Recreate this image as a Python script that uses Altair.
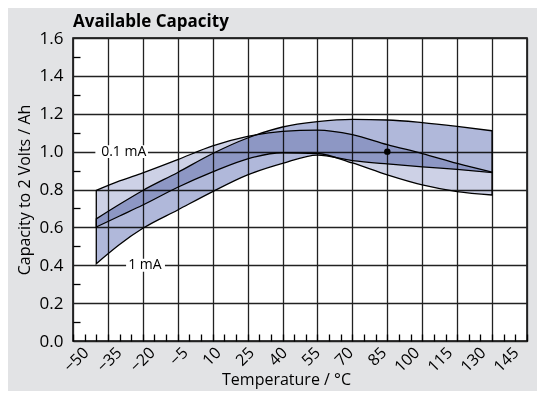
import altair as alt
import pandas as pd

# ---- data ----
temps = [-40, -30, -20, -5, 10, 25, 40, 55, 70, 85, 100, 115, 130]
top_01mA = [0.795, 0.845, 0.888, 0.958, 1.030, 1.080, 1.107, 1.114, 1.090, 1.037, 0.990, 0.938, 0.892]
bot_01mA = [0.602, 0.660, 0.718, 0.812, 0.893, 0.962, 0.994, 0.990, 0.940, 0.877, 0.824, 0.789, 0.771]
top_1mA = [0.645, 0.722, 0.795, 0.890, 0.990, 1.072, 1.130, 1.158, 1.170, 1.167, 1.153, 1.133, 1.110]
bot_1mA = [0.408, 0.510, 0.595, 0.692, 0.789, 0.877, 0.938, 0.982, 0.953, 0.935, 0.920, 0.906, 0.889]

band_names = ["0.1 mA", "1 mA"]
band_colors = ["#cdd1e6", "#b0b8da"]

dot_t = [85]
dot_v = [1.0]

label_text = ["0.1 mA", "1 mA"]
label_t = [-28.2, -19.1]
label_v = [1.0, 0.4]
box_t1 = [-40.4, -27.2]
box_t2 = [-17.8, -10.5]
box_v1 = [0.966, 0.366]
box_v2 = [1.034, 0.434]

x_major = list(range(-50, 146, 15))
x_minor = list(range(-50, 146, 5))
y_major = [0.0, 0.2, 0.4, 0.6, 0.8, 1.0, 1.2, 1.4, 1.6]
y_minor = [0.1, 0.3, 0.5, 0.7, 0.9, 1.1, 1.3, 1.5]

# ---- tables ----
rows = []
for t, lo, hi in zip(temps, bot_01mA, top_01mA):
    rows.append({"T": t, "lo": lo, "hi": hi, "band": band_names[0]})
for t, lo, hi in zip(temps, bot_1mA, top_1mA):
    rows.append({"T": t, "lo": lo, "hi": hi, "band": band_names[1]})
bands = pd.DataFrame(rows)
dots = pd.DataFrame({"T": dot_t, "V": dot_v})
labels = pd.DataFrame({"text": label_text, "T": label_t, "V": label_v,
                       "t1": box_t1, "t2": box_t2, "v1": box_v1, "v2": box_v2})

FONT = "Open Sans"
xs = alt.Scale(domain=[-50, 145], nice=False, zero=False)
ys = alt.Scale(domain=[0, 1.6], nice=False, zero=False)
xs_lab = alt.Scale(domain=[-53.2, 152.7], nice=False, zero=False)

area = alt.Chart(bands).mark_area(
    interpolate="monotone", stroke="black", strokeWidth=1.3,
    blend="multiply", opacity=1
).encode(
    x=alt.X("T:Q", scale=xs, axis=alt.Axis(
        values=x_major, grid=True, labels=False, ticks=False, tickSize=0,
        domain=False, title=None, gridColor="#222222", gridWidth=1.3, gridOpacity=1)),
    y=alt.Y("lo:Q", scale=ys, stack=None, axis=alt.Axis(
        values=y_major, grid=True, format=".1f", ticks=False, tickSize=0,
        domain=False, gridColor="#222222", gridWidth=1.3, gridOpacity=1,
        labelFontSize=17, labelPadding=10, labelColor="black", labelFont=FONT,
        title="Capacity to 2 Volts / Ah", titleFontSize=16, titleFontWeight="normal",
        titleColor="black", titleFont=FONT, titlePadding=7)),
    y2="hi:Q",
    color=alt.Color("band:N", scale=alt.Scale(domain=band_names, range=band_colors), legend=None),
)

boxes = alt.Chart(labels).mark_rect(color="white").encode(
    x=alt.X("t1:Q", scale=xs, axis=None), x2="t2:Q",
    y=alt.Y("v1:Q", scale=ys, axis=None), y2="v2:Q",
)

texts = alt.Chart(labels).mark_text(fontSize=14, font=FONT, color="black",
                                    align="center", baseline="middle").encode(
    x=alt.X("T:Q", scale=xs, axis=None),
    y=alt.Y("V:Q", scale=ys, axis=None),
    text="text:N",
)

dot = alt.Chart(dots).mark_circle(size=42, color="black", opacity=1).encode(
    x=alt.X("T:Q", scale=xs, axis=None),
    y=alt.Y("V:Q", scale=ys, axis=None),
)

xminor = alt.Chart(pd.DataFrame({"v": x_minor})).mark_point(opacity=0).encode(
    x=alt.X("v:Q", scale=xs, axis=alt.Axis(
        values=x_minor, orient="bottom", offset=-7, tickSize=7, ticks=True,
        tickColor="black", tickWidth=1.3, labels=False, domain=False, grid=False, title=None)),
)

yminor = alt.Chart(pd.DataFrame({"v": y_minor})).mark_point(opacity=0).encode(
    y=alt.Y("v:Q", scale=ys, axis=alt.Axis(
        values=y_minor, orient="left", offset=-7, tickSize=7, ticks=True,
        tickColor="black", tickWidth=1.3, labels=False, domain=False, grid=False, title=None)),
)

xlabels = alt.Chart(pd.DataFrame({"v": x_major})).mark_point(opacity=0).encode(
    x=alt.X("v:Q", scale=xs_lab, axis=alt.Axis(
        values=x_major, orient="bottom", labelAngle=-45, labelAlign="right",
        labelBaseline="top", labelPadding=3, ticks=False, tickSize=0, domain=False,
        grid=False, labelFontSize=16, labelFont=FONT, labelColor="black",
        labelOverlap=False, labelFlush=False,
        title="Temperature / °C", titleFontSize=16, titleFontWeight="normal",
        titleFont=FONT, titleColor="black", titleX=213, titleY=43,
        titleBaseline="alphabetic", titleAlign="center")),
)

chart = alt.layer(area, boxes, texts, dot, xminor, yminor, xlabels).resolve_scale(
    x="independent", y="independent"
).resolve_axis(x="independent", y="independent").properties(
    width=454, height=303,
    title=alt.TitleParams("Available Capacity", anchor="start", frame="group",
                          fontSize=17, fontWeight="bold", font=FONT, color="black", offset=-2),
    autosize=alt.AutoSizeParams(type="none"),
    padding={"left": 65, "top": 30, "right": 10, "bottom": 50},
    background="#e2e3e5",
).configure_view(
    stroke="black", strokeWidth=1.5, fill="white"
)

chart.save("out.html", embed_options={"renderer": "svg", "actions": False})
